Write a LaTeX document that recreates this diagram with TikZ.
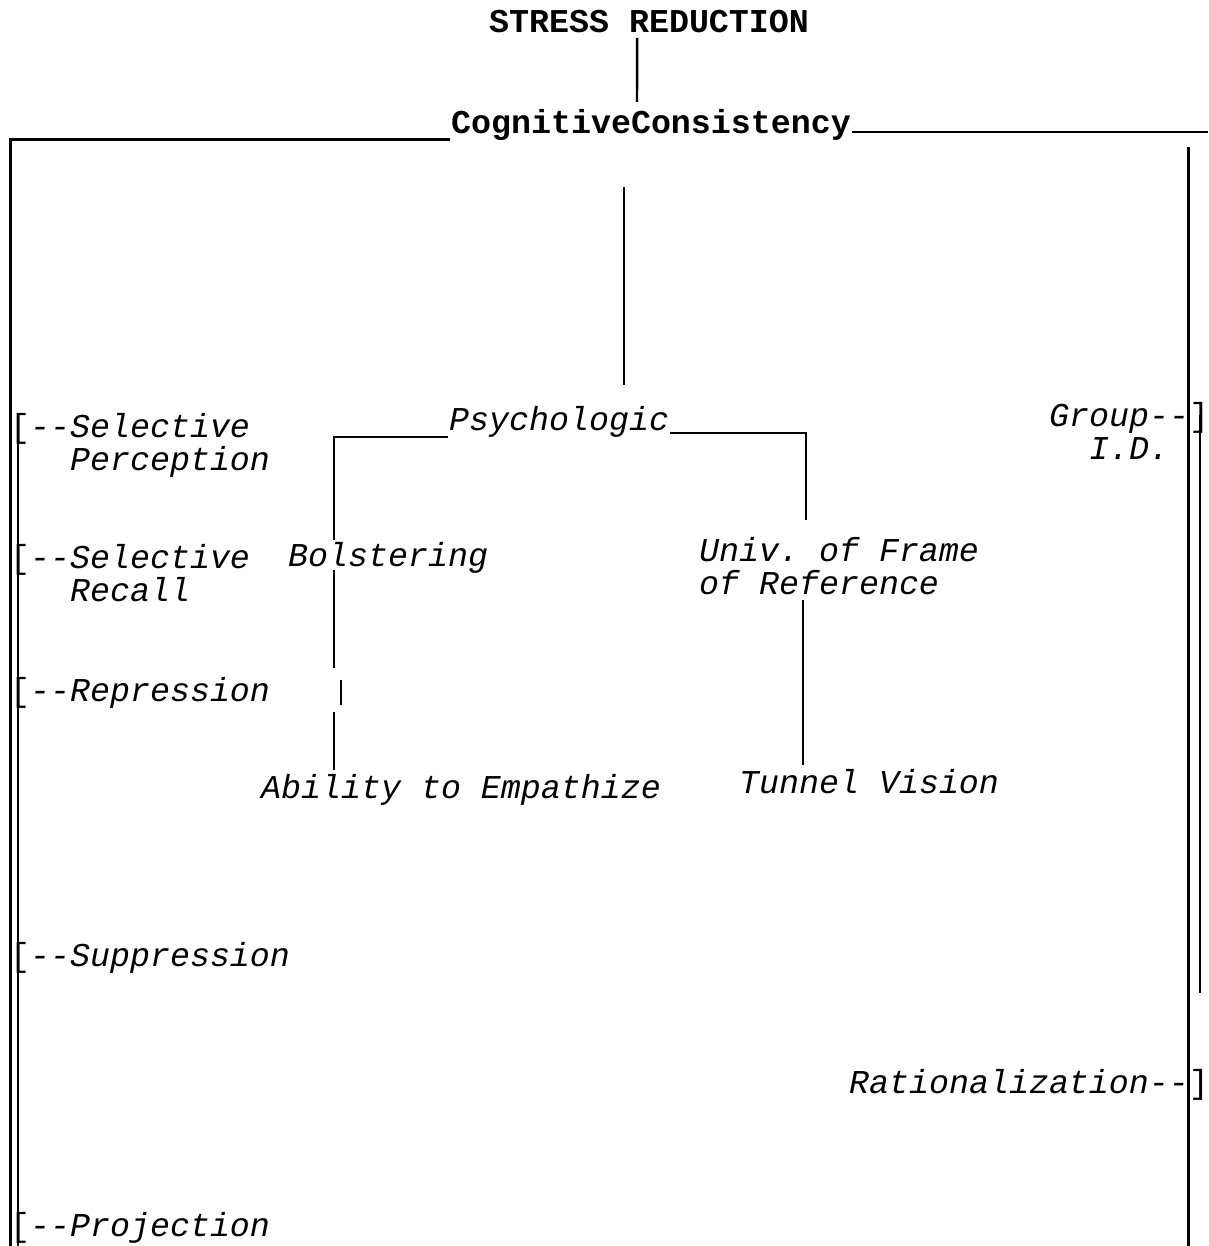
\documentclass[tikz,border=0pt]{standalone}
\usepackage{fontspec}
\setmonofont{Liberation Mono}
\usetikzlibrary{calc}

\tikzset{
  lbl/.style={inner sep=0pt, anchor=base west, align=left,
    font=\ttfamily\itshape\fontsize{33.3}{33}\selectfont},
  head/.style={inner sep=0pt, anchor=base west,
    font=\ttfamily\bfseries\fontsize{33.3}{33}\selectfont},
  frame/.style={line width=3pt}
}

\begin{document}
\begin{tikzpicture}[x=1pt,y=-1pt,line width=2.4pt]
  \useasboundingbox (0,0) rectangle (1208,1246);

  \node[head] (stress) at (488,33) {STRESS REDUCTION};
  \node[head] (cog) at (450,134) {CognitiveConsistency};
  \node[lbl] (psy) at (448,430) {Psychologic};
  \node[lbl] (bols) at (287,566) {Bolstering};
  \node[lbl] (univ) at (698,594) {Univ. of Frame\\of Reference};
  \node[lbl] (abil) at (260,798) {Ability to Empathize};
  \node[lbl] (tunn) at (738,793) {Tunnel Vision};

  \node[lbl] (selp) at (9,470) {{\upshape[}--Selective\\\hphantom{[--}Perception};
  \node[lbl] (selr) at (9,601) {{\upshape[}--Selective\\\hphantom{[--}Recall};
  \node[lbl] (repr) at (9,701) {{\upshape[}--Repression};
  \node[lbl] (supp) at (9,966) {{\upshape[}--Suppression};
  \node[lbl] (proj) at (9,1236) {{\upshape[}--Projection};
  \node[lbl] (group) at (1048,459) {Group--{\upshape]}\\\hphantom{Gr}I.D.};
  \node[lbl] (rat) at (848,1093) {Rationalization--{\upshape]}};

  \draw ($(stress.base)+(-12,5)$) -- ($(cog.base)+(-14,-32)$);
  \draw[frame] ($(cog.base west)+(0,6)$) -| (10,1246);
  \draw ($(cog.base east)+(0,-2)$) -- (1208,132);
  \draw[frame] (1188,147) -- (1188,1246);
  \draw (18,415) -- (18,1246);
  \draw (1200,415) -- (1200,993);

  \draw ($(cog.base west)+(174,53)$) -- ($(psy.base west)+(176,-45)$);
  \draw ($(psy.base west)+(0,7)$) -| ($(bols.base west)+(47,-26)$);
  \draw ($(bols.base west)+(47,4)$) -- ($(bols.base west)+(47,102)$);
  \draw ($(bols.base west)+(54,114)$) -- ++(0,25);
  \draw ($(abil.base west)+(74,-86)$) -- ($(abil.base west)+(74,-28)$);
  \draw ($(psy.base east)+(0,3)$) -| ($(univ.base west)+(108,-74)$);
  \draw ($(univ.base west)+(105,6)$) -- ($(tunn.base west)+(65,-28)$);
\end{tikzpicture}
\end{document}
